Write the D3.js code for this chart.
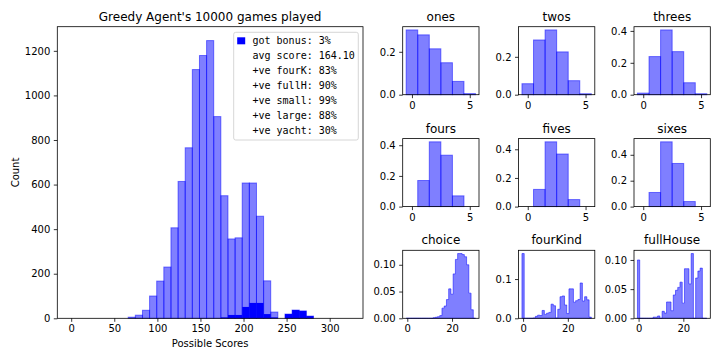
<!DOCTYPE html>
<html>
<head>
<meta charset="utf-8">
<script src="https://cdnjs.cloudflare.com/ajax/libs/d3/7.8.5/d3.min.js"></script>
<style>
  body { margin: 0; background: #fff; }
  svg { display: block; }
  text { font-family: "DejaVu Sans", sans-serif; fill: #000; }
  .mono { font-family: "DejaVu Sans Mono", monospace; }
</style>
</head>
<body>
<svg id="chart" width="720" height="360"></svg>
<script>
// ---- main histogram: counts per score bin ----
const binWidth = 8.27;
const allGames = [0, 0, 0, 0, 0, 0, 0, 0, 5, 14, 36, 100, 167, 230, 406, 614, 765, 1116, 1179, 1246,
  905, 550, 356, 361, 607, 607, 458, 168, 28, 0, 19, 37, 33, 10, 0, 0, 0, 0, 0];
const bonusGames = [0, 0, 0, 0, 0, 0, 0, 0, 0, 0, 0, 0, 0, 0, 0, 0, 0, 0, 0, 0,
  0, 4, 15, 15, 51, 69, 69, 19, 4, 0, 19, 37, 33, 10, 0, 0, 0, 0, 0];
const legendLines = ["got bonus: 3%", "avg score: 164.10", "+ve fourK: 83%", "+ve fullH: 90%",
  "+ve small: 99%", "+ve large: 88%", "+ve yacht: 30%"];
const mainXTicks = [0, 50, 100, 150, 200, 250, 300];
const mainYTicks = [0, 200, 400, 600, 800, 1000, 1200];

// ---- small panels ----
const diceScores = [0, 1, 2, 3, 4, 5];
const ones = [0.302, 0.279, 0.214, 0.149, 0.062, 0.005];
const twos = [0.058, 0.289, 0.342, 0.226, 0.074, 0.005];
const threes = [0.010, 0.239, 0.406, 0.270, 0.075, 0.006];
const fours = [0, 0.170, 0.422, 0.335, 0.070, 0];
const fives = [0, 0.120, 0.452, 0.367, 0.049, 0];
const sixes = [0, 0.109, 0.500, 0.333, 0.039, 0];

const sumScores = [0, 1, 2, 3, 4, 5, 6, 7, 8, 9, 10, 11, 12, 13, 14, 15, 16, 17, 18, 19, 20,
  21, 22, 23, 24, 25, 26, 27, 28, 29, 30];
const choice = [0, 0, 0, 0, 0, 0, 0, 0, 0, 0, 0, 0, 0.001, 0.002, 0.003, 0.005, 0.019, 0.023, 0.035, 0.055,
  0.045, 0.083, 0.110, 0.121, 0.121, 0.119, 0.115, 0.100, 0.047, 0.016, 0];
const fourKind = [0.165, 0, 0, 0, 0, 0.001, 0.005, 0.008, 0.007, 0.020, 0.010, 0.013, 0.015, 0.036, 0.032,
  0.001, 0.023, 0.055, 0.057, 0.034, 0.012, 0.075, 0.075, 0.041, 0.045, 0.048, 0.090, 0.044, 0.055, 0.047, 0.003];
const fullHouse = [0.100, 0, 0, 0, 0, 0, 0, 0.002, 0.002, 0.004, 0, 0.012, 0.009, 0.028, 0.028,
  0.013, 0.040, 0.048, 0.053, 0.062, 0.026, 0.085, 0.085, 0.059, 0.111, 0, 0.069, 0.081, 0.086, 0, 0];

const panels = [
  { title: "ones", x: diceScores, values: ones, step: false, xTicks: [0, 5], yTicks: [0, 0.2], fmt: ".1f" },
  { title: "twos", x: diceScores, values: twos, step: false, xTicks: [0, 5], yTicks: [0, 0.2], fmt: ".1f" },
  { title: "threes", x: diceScores, values: threes, step: false, xTicks: [0, 5], yTicks: [0, 0.2, 0.4], fmt: ".1f" },
  { title: "fours", x: diceScores, values: fours, step: false, xTicks: [0, 5], yTicks: [0, 0.2, 0.4], fmt: ".1f" },
  { title: "fives", x: diceScores, values: fives, step: false, xTicks: [0, 5], yTicks: [0, 0.2, 0.4], fmt: ".1f" },
  { title: "sixes", x: diceScores, values: sixes, step: false, xTicks: [0, 5], yTicks: [0, 0.2, 0.4], fmt: ".1f" },
  { title: "choice", x: sumScores, values: choice, step: true, xTicks: [0, 20], yTicks: [0, 0.05, 0.1], fmt: ".2f" },
  { title: "fourKind", x: sumScores, values: fourKind, step: true, xTicks: [0, 20], yTicks: [0, 0.1], fmt: ".1f" },
  { title: "fullHouse", x: sumScores, values: fullHouse, step: true, xTicks: [0, 20], yTicks: [0, 0.05, 0.1], fmt: ".2f" }
];

const svg = d3.select("#chart");
const intFmt = d3.format("d");

function styleAxis(g) {
  g.select(".domain").remove();
  g.selectAll(".tick line").attr("stroke", "#000").attr("stroke-width", 0.8);
  g.selectAll(".tick text").style("font-size", "10px").attr("fill", "#000");
}

function frame(g, w, h) {
  g.append("rect")
    .attr("width", w).attr("height", h)
    .attr("fill", "none").attr("stroke", "#000").attr("stroke-width", 0.8);
}

// ---- main chart ----
function mainChart() {
  const m = { left: 57.3, top: 26.7, w: 305.7, h: 291.6 };
  const g = svg.append("g").attr("transform", `translate(${m.left},${m.top})`);
  const span = binWidth * allGames.length;
  const x = d3.scaleLinear().domain([-0.05 * span, 1.05 * span]).range([0, m.w]);
  const y = d3.scaleLinear().domain([0, d3.max(allGames) * 1.05]).range([m.h, 0]);

  g.selectAll(".all")
    .data(allGames.map((c, i) => ({ c, i })).filter(d => d.c > 0))
    .enter()
    .append("rect")
    .attr("class", "all")
    .attr("x", d => x(d.i * binWidth))
    .attr("width", d => x((d.i + 1) * binWidth) - x(d.i * binWidth))
    .attr("y", d => y(d.c))
    .attr("height", d => y(0) - y(d.c))
    .attr("fill", "blue").attr("fill-opacity", 0.5)
    .attr("stroke", "blue").attr("stroke-opacity", 0.5).attr("stroke-width", 1);

  g.selectAll(".bonus")
    .data(bonusGames.map((c, i) => ({ c, i })).filter(d => d.c > 0))
    .enter()
    .append("rect")
    .attr("class", "bonus")
    .attr("x", d => x(d.i * binWidth))
    .attr("width", d => x((d.i + 1) * binWidth) - x(d.i * binWidth))
    .attr("y", d => y(d.c))
    .attr("height", d => y(0) - y(d.c))
    .attr("fill", "blue");

  g.append("g").attr("transform", `translate(0,${m.h})`)
    .call(d3.axisBottom(x).tickValues(mainXTicks).tickFormat(intFmt).tickSize(3.5).tickPadding(3.5).tickSizeOuter(0))
    .call(styleAxis);
  g.append("g")
    .call(d3.axisLeft(y).tickValues(mainYTicks).tickFormat(intFmt).tickSize(3.5).tickPadding(3.5).tickSizeOuter(0))
    .call(styleAxis);
  frame(g, m.w, m.h);

  g.append("text").attr("x", m.w / 2).attr("y", -6).attr("text-anchor", "middle")
    .style("font-size", "12px").text("Greedy Agent's 10000 games played");
  g.append("text").attr("x", m.w / 2).attr("y", m.h + 29).attr("text-anchor", "middle")
    .style("font-size", "10px").text("Possible Scores");
  g.append("text").attr("transform", `translate(${-38},${m.h / 2}) rotate(-90)`)
    .attr("text-anchor", "middle").style("font-size", "10px").text("Count");

  // legend
  const lg = g.append("g").attr("transform", `translate(${233.7 - m.left},${32.3 - m.top})`);
  lg.append("rect").attr("width", 124.6).attr("height", 107.7).attr("rx", 2)
    .attr("fill", "#fff").attr("fill-opacity", 0.8)
    .attr("stroke", "#ccc").attr("stroke-width", 0.8);
  lg.append("rect").attr("x", 3.5).attr("y", 5).attr("width", 8).attr("height", 7).attr("fill", "blue");
  lg.selectAll(".lt").data(legendLines).enter().append("text")
    .attr("class", "mono")
    .attr("x", 18.8)
    .attr("y", (d, i) => 12.2 + i * 14.85)
    .style("font-size", "10px")
    .text(d => d);
}

// ---- small panels ----
function panel(p, left, top, w, h) {
  const g = svg.append("g").attr("transform", `translate(${left},${top})`);
  const lo = d3.min(p.x) - 0.5, hi = d3.max(p.x) + 0.5, pad = 0.05 * (hi - lo);
  const x = d3.scaleLinear().domain([lo - pad, hi + pad]).range([0, w]);
  const y = d3.scaleLinear().domain([0, d3.max(p.values) * 1.05]).range([h, 0]);
  const pts = p.x.map((s, i) => ({ s, v: p.values[i] }));

  if (p.step) {
    const stepPts = pts.map(d => ({ x0: d.s - 0.5, v: d.v }));
    stepPts.push({ x0: hi, v: pts[pts.length - 1].v });
    const area = d3.area().curve(d3.curveStepAfter)
      .x(d => x(d.x0)).y0(y(0)).y1(d => y(d.v));
    g.append("path").datum(stepPts).attr("d", area)
      .attr("fill", "blue").attr("fill-opacity", 0.5)
      .attr("stroke", "blue").attr("stroke-opacity", 0.5).attr("stroke-width", 1);
  } else {
    g.selectAll("rect.bar")
      .data(pts.filter(d => d.v > 0))
      .enter()
      .append("rect")
      .attr("class", "bar")
      .attr("x", d => x(d.s - 0.5))
      .attr("width", d => x(d.s + 0.5) - x(d.s - 0.5))
      .attr("y", d => y(d.v))
      .attr("height", d => y(0) - y(d.v))
      .attr("fill", "blue").attr("fill-opacity", 0.5)
      .attr("stroke", "blue").attr("stroke-opacity", 0.5).attr("stroke-width", 1);
  }

  g.append("g").attr("transform", `translate(0,${h})`)
    .call(d3.axisBottom(x).tickValues(p.xTicks).tickFormat(intFmt).tickSize(3.5).tickPadding(3.5).tickSizeOuter(0))
    .call(styleAxis);
  g.append("g")
    .call(d3.axisLeft(y).tickValues(p.yTicks).tickFormat(d3.format(p.fmt)).tickSize(3.5).tickPadding(3.5).tickSizeOuter(0))
    .call(styleAxis);
  frame(g, w, h);

  g.append("text").attr("x", w / 2).attr("y", -6).attr("text-anchor", "middle")
    .style("font-size", "12px").text(p.title);
}

mainChart();

const colLeft = [402.7, 518.5, 634];
const rowTop = [26.7, 138.6, 250.3];
panels.forEach((p, i) => {
  panel(p, colLeft[i % 3], rowTop[Math.floor(i / 3)], 76.3, 68);
});
</script>
</body>
</html>
